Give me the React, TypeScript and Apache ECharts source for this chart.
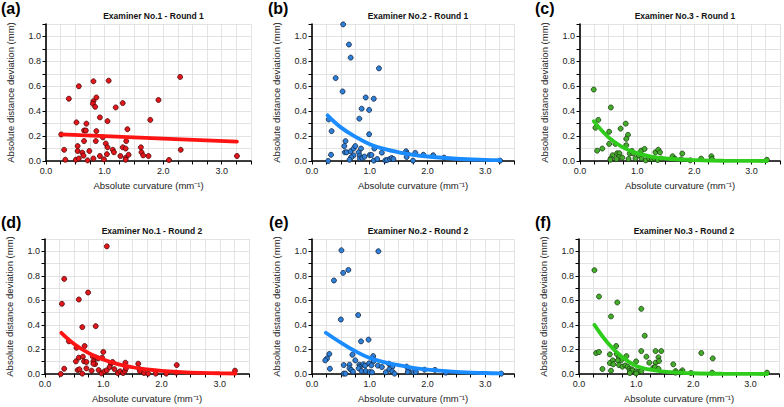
import React, { useEffect, useRef } from "react";
import * as echarts from "echarts";

const panelLabels = ["(a)", "(b)", "(c)", "(d)", "(e)", "(f)"];
const panelTitles = [
  "Examiner No.1 - Round 1",
  "Examiner No.2 - Round 1",
  "Examiner No.3 - Round 1",
  "Examiner No.1 - Round 2",
  "Examiner No.2 - Round 2",
  "Examiner No.3 - Round 2",
];
const xAxisName = "Absolute curvature (mm\u207B\u00B9)";
const yAxisName = "Absolute distance deviation (mm)";

// Panel (a): Examiner 1, Round 1
const pointsA = [
  [0.26, 0.213], [0.31, 0.09], [0.33, 0.01], [0.39, 0.5], [0.56, 0.6], [0.52, 0.31], [0.54, 0.12],
  [0.54, 0.08], [0.51, 0.01], [0.56, 0.02], [0.81, 0.64], [0.65, 0.245], [0.68, 0.245], [0.69, 0.3],
  [0.65, 0.16], [0.62, 0.067], [0.64, 0.043], [0.71, 0.005], [0.74, 0.08], [0.81, 0.48], [0.8, 0.46],
  [0.84, 0.435], [0.86, 0.51], [0.86, 0.24], [0.85, 0.16], [0.81, 0.02], [0.92, 0.35], [0.92, 0.04],
  [0.97, 0.19], [0.99, 0.013], [1.07, 0.645], [1.05, 0.32], [1.02, 0.14], [1.05, 0.11], [1.04, 0.055],
  [1.14, 0.09], [1.16, 0.07], [1.19, 0.43], [1.27, 0.04], [1.31, 0.465], [1.31, 0.11], [1.36, 0.1],
  [1.37, 0.16], [1.39, 0.255], [1.36, 0.025], [1.41, 0.05], [1.36, 0.01], [1.62, 0.11], [1.63, 0.07],
  [1.66, 0.045], [1.75, 0.04], [1.78, 0.33], [1.92, 0.49], [2.1, 0.008], [2.29, 0.675], [2.3, 0.09],
  [3.26, 0.04],
];
const fitA = [[0.26, 0.213], [1.0, 0.199], [2.0, 0.18], [3.26, 0.155]];

// Panel (b): Examiner 2, Round 1
const pointsB = [
  [0.54, 1.097], [0.64, 0.935], [0.67, 0.83], [0.41, 0.666], [0.53, 0.558], [1.16, 0.744], [0.93, 0.51],
  [1.07, 0.5], [0.86, 0.42], [0.99, 0.41], [0.82, 0.34], [0.29, 0.334], [0.34, 0.24], [0.99, 0.215],
  [0.58, 0.16], [0.56, 0.12], [0.33, 0.05], [0.28, 0.0], [0.57, 0.07], [0.6, 0.07], [0.67, 0.078],
  [0.72, 0.1], [0.75, 0.12], [0.81, 0.07], [0.85, 0.1], [0.83, 0.043], [0.72, 0.045], [0.68, 0.03],
  [0.65, 0.01], [0.83, 0.02], [0.87, 0.024], [0.91, 0.035], [1.0, 0.048], [1.03, 0.048], [1.08, 0.1],
  [1.07, 0.003], [1.13, 0.016], [1.21, 0.067], [1.27, 0.005], [1.3, 0.008], [1.35, 0.016], [1.38, 0.024],
  [1.41, 0.016], [1.63, 0.078], [1.65, 0.06], [1.64, 0.032], [1.75, 0.003], [1.79, 0.065], [1.93, 0.05],
  [2.1, 0.046], [2.29, 0.027], [3.26, 0.003],
];
const fitB = [
  [0.27, 0.367], [0.5, 0.27], [0.75, 0.195], [1.0, 0.135], [1.25, 0.097], [1.5, 0.07], [1.75, 0.05],
  [2.0, 0.036], [2.5, 0.018], [3.0, 0.009], [3.26, 0.007],
];

// Panel (c): Examiner 3, Round 1
const pointsC = [
  [0.24, 0.574], [0.54, 0.43], [0.32, 0.33], [0.27, 0.267], [0.51, 0.235], [0.71, 0.26], [0.8, 0.3],
  [0.84, 0.21], [0.81, 0.178], [0.81, 0.127], [0.39, 0.1], [0.3, 0.083], [0.51, 0.137], [0.62, 0.137],
  [0.57, 0.046], [0.54, 0.02], [0.53, 0.01], [0.65, 0.062], [0.69, 0.062], [0.68, 0.032], [0.64, 0.016],
  [0.74, 0.027], [0.85, 0.016], [0.87, 0.06], [0.91, 0.08], [0.93, 0.06], [0.97, 0.02], [1.03, 0.046],
  [1.06, 0.062], [1.07, 0.083], [1.13, 0.097], [1.08, 0.02], [1.15, 0.005], [1.21, 0.02], [1.26, 0.016],
  [1.3, 0.02], [1.32, 0.07], [1.37, 0.09], [1.4, 0.07], [1.36, 0.008], [1.42, 0.02], [1.62, 0.038],
  [1.66, 0.019], [1.77, 0.013], [1.79, 0.06], [1.93, 0.005], [2.12, 0.019], [2.3, 0.038], [2.31, 0.016],
  [3.27, 0.01],
];
const fitC = [
  [0.24, 0.32], [0.5, 0.19], [0.75, 0.11], [1.0, 0.063], [1.25, 0.036], [1.5, 0.02], [1.75, 0.012],
  [2.0, 0.007], [2.5, 0.002], [3.0, 0.001], [3.27, 0.0],
];

// Panel (d): Examiner 1, Round 2
const pointsD = [
  [1.06, 1.04], [0.33, 0.775], [0.58, 0.607], [0.74, 0.664], [0.29, 0.572], [0.64, 0.382], [0.87, 0.39],
  [0.41, 0.266], [0.54, 0.214], [0.68, 0.228], [1.0, 0.18], [0.58, 0.133], [0.65, 0.141], [0.82, 0.141],
  [0.87, 0.135], [0.91, 0.127], [0.98, 0.133], [0.53, 0.103], [0.67, 0.103], [0.71, 0.098], [0.83, 0.103],
  [0.86, 0.081], [0.83, 0.084], [1.13, 0.084], [1.16, 0.098], [1.38, 0.092], [1.6, 0.084], [2.26, 0.073],
  [0.33, 0.043], [0.56, 0.032], [0.59, 0.038], [0.71, 0.046], [0.8, 0.027], [0.92, 0.032], [0.64, 0.003],
  [0.27, 0.0], [0.97, 0.005], [1.02, 0.022], [1.06, 0.03], [1.11, 0.057], [1.19, 0.04], [1.25, 0.008],
  [1.29, 0.022], [1.34, 0.008], [1.37, 0.024], [1.39, 0.046], [1.62, 0.04], [1.63, 0.022], [1.7, 0.008],
  [1.77, 0.003], [1.9, 0.003], [2.08, 0.003], [2.25, 0.011], [3.26, 0.027],
];
const fitD = [
  [0.28, 0.336], [0.5, 0.245], [0.75, 0.17], [1.0, 0.118], [1.25, 0.08], [1.5, 0.055], [1.75, 0.038],
  [2.0, 0.026], [2.5, 0.012], [3.0, 0.006], [3.27, 0.004],
];

// Panel (e): Examiner 2, Round 2
const pointsE = [
  [0.51, 1.008], [1.15, 1.0], [0.54, 0.824], [0.63, 0.848], [0.38, 0.762], [0.8, 0.48], [0.5, 0.444],
  [0.98, 0.28], [0.85, 0.266], [0.3, 0.163], [0.26, 0.127], [0.23, 0.111], [0.7, 0.157], [1.06, 0.146],
  [1.07, 0.117], [1.07, 0.106], [0.75, 0.111], [0.31, 0.043], [0.55, 0.073], [0.65, 0.076], [0.82, 0.076],
  [0.83, 0.06], [0.89, 0.079], [0.92, 0.068], [0.99, 0.087], [1.03, 0.07], [1.14, 0.068], [1.21, 0.057],
  [1.33, 0.084], [1.36, 0.073], [1.39, 0.057], [0.65, 0.046], [0.68, 0.033], [0.71, 0.019], [0.81, 0.046],
  [0.86, 0.024], [0.93, 0.024], [1.0, 0.016], [1.04, 0.014], [0.55, 0.003], [0.58, 0.003], [1.28, 0.014],
  [1.34, 0.038], [1.39, 0.022], [1.43, 0.003], [1.64, 0.06], [1.67, 0.033], [1.66, 0.016], [1.76, 0.016],
  [1.8, 0.016], [1.95, 0.035], [2.13, 0.033], [2.32, 0.011], [3.28, 0.003],
];
const fitE = [
  [0.24, 0.336], [0.5, 0.255], [0.75, 0.185], [1.0, 0.13], [1.25, 0.097], [1.5, 0.072], [1.75, 0.05],
  [2.0, 0.035], [2.5, 0.017], [3.0, 0.008], [3.28, 0.005],
];

// Panel (f): Examiner 3, Round 2
const pointsF = [
  [0.27, 0.846], [0.35, 0.631], [0.67, 0.583], [1.09, 0.531], [0.56, 0.469], [1.15, 0.312], [0.65, 0.228],
  [0.3, 0.171], [0.35, 0.179], [0.66, 0.163], [0.54, 0.16], [1.09, 0.187], [1.34, 0.187], [1.44, 0.187],
  [2.14, 0.171], [2.34, 0.127], [1.18, 0.141], [1.39, 0.136], [0.83, 0.146], [0.7, 0.133], [0.74, 0.114],
  [0.68, 0.111], [0.59, 0.111], [1.0, 0.103], [1.23, 0.092], [1.34, 0.092], [1.4, 0.106], [1.65, 0.079],
  [0.54, 0.089], [0.6, 0.079], [0.7, 0.073], [0.76, 0.06], [0.81, 0.07], [0.85, 0.06], [0.88, 0.043],
  [0.92, 0.038], [0.41, 0.041], [0.56, 0.027], [0.89, 0.024], [0.94, 0.03], [1.0, 0.022], [1.05, 0.019],
  [1.09, 0.022], [0.89, 0.008], [1.0, 0.005], [1.3, 0.051], [1.33, 0.057], [1.39, 0.043], [1.69, 0.024],
  [1.69, 0.011], [1.81, 0.03], [1.78, 0.014], [1.96, 0.008], [2.33, 0.011], [3.29, 0.011],
];
const fitF = [
  [0.27, 0.4], [0.5, 0.255], [0.75, 0.14], [1.0, 0.065], [1.25, 0.035], [1.5, 0.019], [1.75, 0.011],
  [2.0, 0.006], [2.5, 0.002], [3.0, 0.001], [3.29, 0.0],
];

const allPoints = [pointsA, pointsB, pointsC, pointsD, pointsE, pointsF];
const allFits = [fitA, fitB, fitC, fitD, fitE, fitF];

const RED = { fill: "#e2161b", border: "#4a0505", line: "#ff1414" };
const BLUE = { fill: "#2f80d8", border: "#0f2340", line: "#1a8cff" };
const GREEN = { fill: "#45ad2c", border: "#163d0e", line: "#2fcc1c" };
const palettes = [RED, BLUE, GREEN, RED, BLUE, GREEN];

const FONT = "'Liberation Sans', Arial, Helvetica, sans-serif";

const grids = [
  { left: 46, top: 24, width: 205, height: 137 },
  { left: 312, top: 24, width: 202, height: 137 },
  { left: 580, top: 24, width: 200, height: 137 },
  { left: 45, top: 239, width: 204, height: 135 },
  { left: 312, top: 239, width: 202, height: 135 },
  { left: 579, top: 239, width: 200, height: 135 },
];
const labelPos = [
  [1, 0], [268, 0], [535, 0], [1, 214], [269, 214], [535, 214],
];

export default function App() {
  const ref = useRef<HTMLDivElement>(null);
  useEffect(() => {
    if (!ref.current) return;
    const chart = echarts.init(ref.current, undefined, { renderer: "svg" });
    const axisCommon = {
      axisLine: { show: true, onZero: false, lineStyle: { color: "#000", width: 1.6 } },
      axisTick: { show: true, inside: false, length: 3.5, lineStyle: { color: "#000", width: 1 } },
      splitLine: { show: true, lineStyle: { color: "#dcdcdc", width: 0.8 } },
      axisLabel: { color: "#222", fontSize: 9, fontFamily: FONT, margin: 5 },
      nameTextStyle: { color: "#222", fontSize: 9.5, fontFamily: FONT },
    };
    const xAxes = grids.map((_, i) => ({
      ...axisCommon,
      type: "value",
      gridIndex: i,
      min: 0,
      max: 3.5,
      interval: 0.25,
      name: xAxisName,
      nameLocation: "middle",
      nameGap: 19,
      axisLabel: {
        ...axisCommon.axisLabel,
        formatter: (v: number) => (Math.abs(v - Math.round(v)) < 1e-6 && v < 3.4 ? v.toFixed(1) : ""),
      },
    }));
    const yAxes = grids.map((_, i) => ({
      ...axisCommon,
      type: "value",
      gridIndex: i,
      min: 0,
      max: 1.1,
      interval: 0.1,
      name: yAxisName,
      nameLocation: "middle",
      nameGap: 31,
      axisLabel: {
        ...axisCommon.axisLabel,
        formatter: (v: number) => {
          const t = Math.round(v * 10);
          return t % 2 === 0 && t <= 10 ? v.toFixed(1) : "";
        },
      },
    }));
    const series: any[] = [];
    allPoints.forEach((pts, i) => {
      const p = palettes[i];
      series.push({
        type: "scatter",
        xAxisIndex: i,
        yAxisIndex: i,
        data: pts,
        symbol: "circle",
        symbolSize: 5,
        itemStyle: { color: p.fill, borderColor: p.border, borderWidth: 0.8, opacity: 1 },
        z: 2,
      });
      series.push({
        type: "line",
        xAxisIndex: i,
        yAxisIndex: i,
        data: allFits[i],
        smooth: i === 0 ? false : 0.4,
        showSymbol: false,
        symbol: "none",
        lineStyle: { color: p.line, width: 3.8, cap: "round" },
        z: 3,
      });
    });
    const titles = grids.map((g, i) => ({
      text: panelTitles[i],
      left: g.left + g.width / 2,
      top: i < 3 ? 6 : 221,
      textAlign: "center",
      textStyle: { fontSize: 8.5, fontWeight: "bold", color: "#111", fontFamily: FONT },
    }));
    const graphics = panelLabels.map((t, i) => ({
      type: "text",
      x: labelPos[i][0],
      y: labelPos[i][1],
      style: { text: t, font: `bold 16px ${FONT}`, fill: "#000" },
    }));
    chart.setOption({
      animation: false,
      backgroundColor: "#fff",
      title: titles,
      grid: grids.map((g) => ({ ...g, containLabel: false })),
      xAxis: xAxes,
      yAxis: yAxes,
      series,
      graphic: graphics,
    });
    return () => chart.dispose();
  }, []);
  return (
    <div
      ref={ref}
      style={{ position: "fixed", left: 0, top: 0, width: 784, height: 407, background: "#fff" }}
    />
  );
}
